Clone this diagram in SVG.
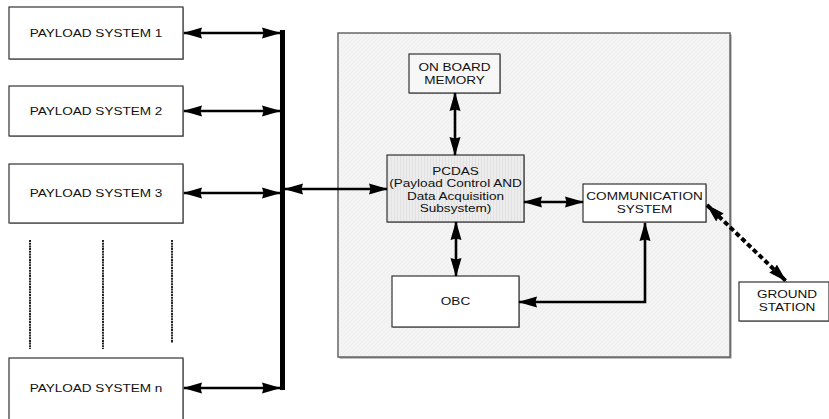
<svg xmlns="http://www.w3.org/2000/svg" width="829" height="419" viewBox="0 0 829 419">
  <style>
    .box { fill: #ffffff; stroke: #333333; stroke-width: 1.2; }
    .shadow { fill: #b0b0b0; }
    .lbl { font-family: "Liberation Sans", Arial, sans-serif; font-size: 11.3px; fill: #111111; text-anchor: middle; }
    .link { fill: none; stroke: #000000; stroke-width: 2.6; marker-start: url(#head); marker-end: url(#head); }
    .dash { fill: none; stroke: #000000; stroke-width: 4; stroke-dasharray: 5 3; marker-start: url(#head); marker-end: url(#head); }
    .etc { stroke: #000000; stroke-width: 1.7; stroke-dasharray: 2 0.7; }
  </style>
  <defs>
    <marker id="head" viewBox="0 0 19 13" markerWidth="19" markerHeight="13" refX="18" refY="6.5" orient="auto-start-reverse" markerUnits="userSpaceOnUse">
      <path d="M0,1 L19,6.5 L0,12 L1.5,6.5 Z" fill="#000000"/>
    </marker>
    <pattern id="grain" width="4" height="4" patternUnits="userSpaceOnUse">
      <rect width="4" height="4" fill="#f4f4f4"/>
      <path d="M0,4 L4,0" stroke="#e9e9e9" stroke-width="0.6"/>
    </pattern>
    <pattern id="vlines" width="3" height="3" patternUnits="userSpaceOnUse">
      <rect width="3" height="3" fill="#ececec"/>
      <path d="M1.5,0 V3" stroke="#e0e0e0" stroke-width="0.8"/>
    </pattern>
  </defs>

  <!-- spacecraft enclosure -->
  <g id="spacecraft">
    <rect x="339.5" y="34.5" width="392" height="324" fill="#888888"/>
    <rect x="338" y="33" width="392" height="324" fill="url(#grain)" stroke="#666666" stroke-width="1.5"/>
  </g>

  <!-- payload side -->
  <g id="payload1">
    <rect class="shadow" x="10" y="8" width="174" height="52"/>
    <rect class="box" x="9" y="7" width="174" height="52"/>
    <text class="lbl" transform="translate(96,37) scale(1.2,1)">PAYLOAD SYSTEM 1</text>
  </g>
  <g id="payload2">
    <rect class="shadow" x="10" y="87" width="174" height="50"/>
    <rect class="box" x="9" y="86" width="174" height="50"/>
    <text class="lbl" transform="translate(96,115) scale(1.2,1)">PAYLOAD SYSTEM 2</text>
  </g>
  <g id="payload3">
    <rect class="shadow" x="10" y="165" width="174" height="59"/>
    <rect class="box" x="9" y="164" width="174" height="59"/>
    <text class="lbl" transform="translate(96,197) scale(1.2,1)">PAYLOAD SYSTEM 3</text>
  </g>
  <g id="payload-more">
    <line class="etc" x1="30" y1="240" x2="30" y2="349"/>
    <line class="etc" x1="103" y1="240" x2="103" y2="349"/>
    <line class="etc" x1="172" y1="240" x2="172" y2="343"/>
  </g>
  <g id="payloadn">
    <rect class="shadow" x="10" y="359" width="174" height="62"/>
    <rect class="box" x="9" y="358" width="174" height="62"/>
    <text class="lbl" transform="translate(96,392) scale(1.2,1)">PAYLOAD SYSTEM n</text>
  </g>

  <!-- data bus -->
  <g id="bus">
    <rect x="280" y="30" width="5" height="360" fill="#000000"/>
  </g>

  <!-- subsystems -->
  <g id="memory">
    <rect class="shadow" x="410" y="55" width="91" height="39"/>
    <rect x="409" y="54" width="91" height="39" fill="#f7f7f7" stroke="#333333" stroke-width="1.2"/>
    <text class="lbl" transform="translate(454.5,71) scale(1.2,1)">ON BOARD</text>
    <text class="lbl" transform="translate(454.5,84) scale(1.2,1)">MEMORY</text>
  </g>
  <g id="pcdas">
    <rect class="shadow" x="388" y="156" width="137" height="67"/>
    <rect x="387" y="155" width="137" height="67" fill="url(#vlines)" stroke="#333333" stroke-width="1.2"/>
    <text class="lbl" transform="translate(455.5,174.5) scale(1.2,1)">PCDAS</text>
    <text class="lbl" transform="translate(455.5,187) scale(1.2,1)">(Payload Control AND</text>
    <text class="lbl" transform="translate(455.5,199.5) scale(1.2,1)">Data Acquisition</text>
    <text class="lbl" transform="translate(455.5,212) scale(1.2,1)">Subsystem)</text>
  </g>
  <g id="comm">
    <rect class="shadow" x="584" y="185" width="123" height="38"/>
    <rect class="box" x="583" y="184" width="123" height="38"/>
    <text class="lbl" transform="translate(644.5,200) scale(1.2,1)">COMMUNICATION</text>
    <text class="lbl" transform="translate(644.5,213) scale(1.2,1)">SYSTEM</text>
  </g>
  <g id="obc">
    <rect class="shadow" x="393" y="277" width="127" height="51"/>
    <rect class="box" x="392" y="276" width="127" height="51"/>
    <text class="lbl" transform="translate(455.5,305) scale(1.2,1)">OBC</text>
  </g>
  <g id="ground">
    <rect class="shadow" x="740" y="283" width="90" height="39"/>
    <rect class="box" x="739" y="282" width="90" height="39"/>
    <text class="lbl" transform="translate(787,298) scale(1.2,1)">GROUND</text>
    <text class="lbl" transform="translate(787,311) scale(1.2,1)">STATION</text>
  </g>

  <!-- connectors -->
  <g id="connectors">
    <line class="link" x1="184" y1="33" x2="280" y2="33"/>
    <line class="link" x1="184" y1="111" x2="280" y2="111"/>
    <line class="link" x1="184" y1="193" x2="280" y2="193"/>
    <line class="link" x1="184" y1="388" x2="280" y2="388"/>
    <line class="link" x1="285" y1="189" x2="387" y2="189"/>
    <line class="link" x1="455" y1="93" x2="455" y2="155"/>
    <line class="link" x1="456" y1="222" x2="456" y2="276"/>
    <line class="link" x1="524" y1="202" x2="583" y2="202"/>
    <polyline class="link" points="645,223 645,302 519,302"/>
    <line class="dash" x1="707" y1="205" x2="786" y2="281"/>
  </g>
</svg>
